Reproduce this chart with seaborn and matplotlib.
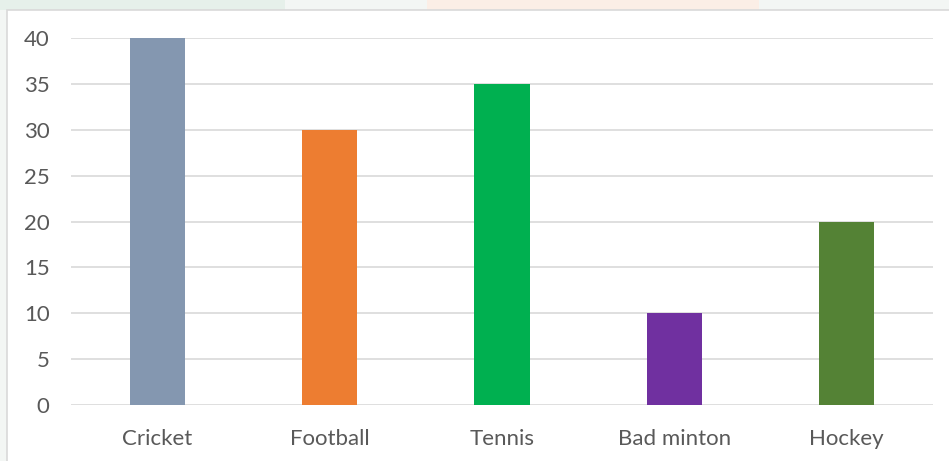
import matplotlib
matplotlib.use("Agg")
import matplotlib.pyplot as plt
import seaborn as sns
import pandas as pd
from matplotlib.patches import Rectangle

categories = ["Cricket", "Football", "Tennis", "Bad minton", "Hockey"]
values = [40, 30, 35, 10, 20]
colors = ["#8497B0", "#ED7D31", "#00B050", "#7030A0", "#548235"]
yticks = [0, 5, 10, 15, 20, 25, 30, 35, 40]

sns.set_theme(style="white")
plt.rcParams['font.family'] = ['Lato', 'DejaVu Sans']

W, H = 949, 461
fig = plt.figure(figsize=(W / 100, H / 100), dpi=100)
fig.patch.set_facecolor("#f3f6f4")

# faint background strips outside the chart box
fig.patches.append(Rectangle((0, 1 - 10 / H), 0.3, 10 / H, transform=fig.transFigure,
                             facecolor="#e6f0ea", edgecolor="none", zorder=-10))
fig.patches.append(Rectangle((0.45, 1 - 10 / H), 0.35, 10 / H, transform=fig.transFigure,
                             facecolor="#fbeee6", edgecolor="none", zorder=-10))
# chart box
fig.patches.append(Rectangle((7 / W, -0.01), 1.0, 1 - 10 / H + 0.01, transform=fig.transFigure,
                             facecolor="white", edgecolor="#d9d9d9", linewidth=1.2, zorder=-5))

ax = fig.add_axes([71 / W, 1 - 405 / H, (933 - 71) / W, (405 - 38) / H])
ax.set_zorder(5)
ax.patch.set_alpha(0)

df = pd.DataFrame({"cat": categories, "val": values})
sns.barplot(data=df, x="cat", y="val", hue="cat", palette=colors, legend=False,
            width=0.32, ax=ax, zorder=3, saturation=1, linewidth=0)

ax.set_ylim(0, 40)
ax.set_yticks(yticks)
ax.set_yticklabels([str(t) for t in yticks])
ax.set_xlim(-0.5, len(categories) - 0.5)
for t in yticks:
    ax.axhline(t, color="#d9d9d9", linewidth=1.2, zorder=1)

for s in ax.spines.values():
    s.set_visible(False)
ax.set_xlabel("")
ax.set_ylabel("")
ax.tick_params(axis="y", length=0, pad=15.5, labelsize=16, labelcolor="#595959")
ax.tick_params(axis="x", length=0, pad=17, labelsize=16, labelcolor="#595959")
ax.grid(False)

fig.savefig("out.png", dpi=100, facecolor=fig.get_facecolor())
